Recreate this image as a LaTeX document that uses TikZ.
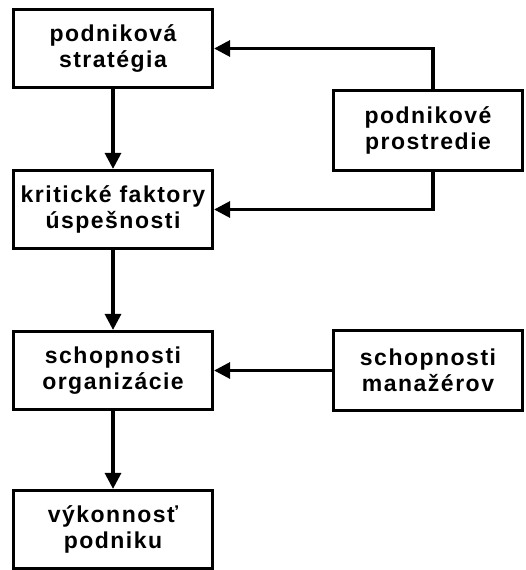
\documentclass[tikz,border=0pt]{standalone}
\usepackage{fontspec}
\usepackage{tikz}
\setmainfont{Liberation Sans}
\newfontfamily\boxfont[LetterSpace=6.5]{Liberation Sans}
\usetikzlibrary{arrows.meta}

\begin{document}
\begin{tikzpicture}[x = 1pt, y = -1pt, >={Triangle[length=16pt, width=16pt]}, line width = 3.2pt,
box/.style = {draw, minimum width = 199pt, minimum height = 78pt, align = center, inner sep = 0pt,
font = \boxfont\bfseries\fontsize{23}{25.5}\selectfont},
sidebox/.style = {box, minimum width = 189pt, minimum height = 80pt}]
\useasboundingbox (0,0) rectangle (525,570);
\node[box] (strategia) at (113,48.5) {podniková\\stratégia};
\node[box] (faktory) at (113,209.5) {kritické faktory\\úspešnosti};
\node[box] (schopnosti) at (113,370.5) {schopnosti\\organizácie};
\node[box] (vykonnost) at (113,529.5) {výkonnosť\\podniku};
\node[sidebox] (prostredie) at (428,130.5) {podnikové\\prostredie};
\node[sidebox] (manazeri) at (428,370.5) {schopnosti\\manažérov};
\draw[->] (strategia) -- (faktory);
\draw[->] (faktory) -- (schopnosti);
\draw[->] (schopnosti) -- (vykonnost);
\draw[->] ([xshift = 5pt]prostredie.north) |- (strategia.east);
\draw[->] ([xshift = 5pt]prostredie.south) |- (faktory.east);
\draw[->] (manazeri) -- (schopnosti);
\end{tikzpicture}
\end{document}
